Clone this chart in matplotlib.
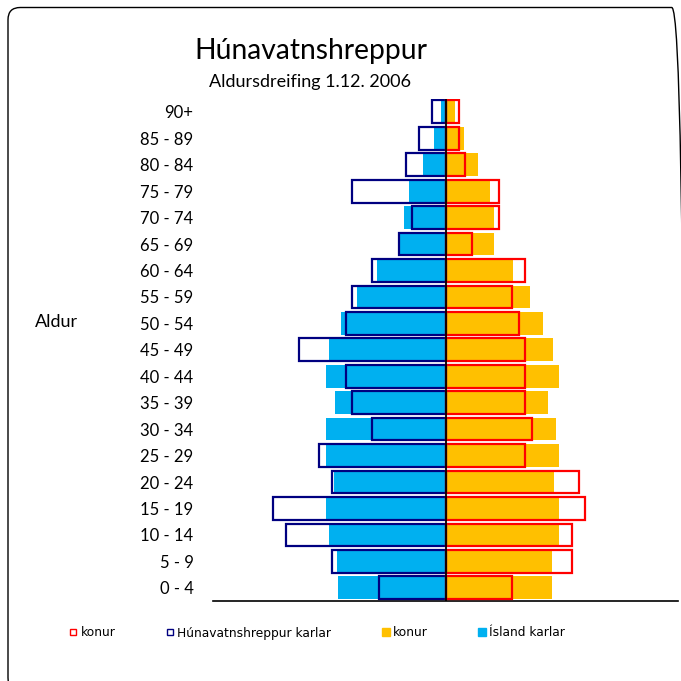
import numpy as np
import matplotlib.pyplot as plt
from matplotlib.patches import FancyBboxPatch
from matplotlib.lines import Line2D

# Aldurshópar, frá yngstu til elstu
aldur = ['0 - 4', '5 - 9', '10 - 14', '15 - 19', '20 - 24', '25 - 29', '30 - 34',
         '35 - 39', '40 - 44', '45 - 49', '50 - 54', '55 - 59', '60 - 64',
         '65 - 69', '70 - 74', '75 - 79', '80 - 84', '85 - 89', '90+']

# Ísland, hlutfall (%) af mannfjölda
island_karlar = [3.50, 3.51, 3.79, 3.89, 3.62, 3.89, 3.89, 3.59, 3.89, 3.79,
                 3.39, 2.86, 2.21, 1.48, 1.35, 1.19, 0.74, 0.38, 0.13]
island_konur = [3.45, 3.47, 3.68, 3.68, 3.52, 3.68, 3.58, 3.32, 3.69, 3.49,
                3.15, 2.74, 2.18, 1.59, 1.56, 1.43, 1.07, 0.61, 0.32]

# Húnavatnshreppur, fjöldi
hun_karlar = [10, 17, 24, 26, 17, 19, 11, 14, 15, 22, 15, 14, 11, 7, 5, 14, 6, 4, 2]
hun_konur = [10, 19, 19, 21, 20, 12, 13, 12, 12, 12, 11, 10, 12, 4, 8, 8, 3, 2, 2]

heild = sum(hun_karlar) + sum(hun_konur)
hun_karlar_pct = np.array(hun_karlar) / heild * 100
hun_konur_pct = np.array(hun_konur) / heild * 100

blar = '#00B0F0'
gulur = '#FFC000'
dokkblar = '#000080'
raudur = '#FF0000'

W = 681
fig = plt.figure(figsize=(6.81, 6.81), dpi=100)
ax = fig.add_axes([213 / W, (W - 601) / W, (678 - 213) / W, (601 - 98.6) / W])

y = np.arange(len(aldur))
h = 0.86
ax.barh(y, -np.array(island_karlar), height=h, color=blar, zorder=2)
ax.barh(y, island_konur, height=h, color=gulur, zorder=2)
ax.barh(y, -hun_karlar_pct, height=h, fill=False, edgecolor=dokkblar, linewidth=1.6, zorder=3)
ax.barh(y, hun_konur_pct, height=h, fill=False, edgecolor=raudur, linewidth=1.6, zorder=3)
ax.axvline(0, color='black', linewidth=1.3, zorder=4)

ax.set_xlim(-7.55, 7.55)
ax.set_ylim(-0.5, len(aldur) - 0.5)
ax.set_yticks(y)
ax.set_yticklabels(aldur, fontsize=12, family='Lato')
ax.tick_params(axis='y', length=0, pad=14)
ax.set_xticks([])
for s in ['top', 'right', 'left']:
    ax.spines[s].set_visible(False)
ax.spines['bottom'].set_linewidth(1.2)

fig.text(311 / W, (W - 59.3) / W, 'Húnavatnshreppur', ha='center', va='baseline',
         fontsize=20.3, family='Lato')
fig.text(310 / W, (W - 86.7) / W, 'Aldursdreifing 1.12. 2006', ha='center', va='baseline',
         fontsize=13, family='Lato')
fig.text(56.5 / W, (W - 322) / W, 'Aldur', ha='center', va='center', fontsize=13, family='Lato')

handles = [
    Line2D([], [], marker='s', linestyle='none', markersize=5, markerfacecolor='white',
           markeredgecolor=raudur, markeredgewidth=1),
    Line2D([], [], marker='s', linestyle='none', markersize=5, markerfacecolor='white',
           markeredgecolor=dokkblar, markeredgewidth=1),
    Line2D([], [], marker='s', linestyle='none', markersize=5.5, color=gulur),
    Line2D([], [], marker='s', linestyle='none', markersize=5.5, color=blar),
]
labels = ['konur', 'Húnavatnshreppur karlar', 'konur', 'Ísland karlar']
fig.legend(handles, labels, loc='center left', bbox_to_anchor=(70 / W, (W - 633) / W),
           ncol=4, frameon=False, prop={'family': 'DejaVu Sans', 'size': 8.8},
           handlelength=0.55, handletextpad=0.3, columnspacing=4.2, borderpad=0,
           borderaxespad=0)

ramma = FancyBboxPatch((8 / W, -9 / W), (684 - 8) / W, (W - 7.5 + 9) / W,
                       boxstyle='round,pad=0,rounding_size=0.018',
                       transform=fig.transFigure, fill=False, edgecolor='black',
                       linewidth=1.0, clip_on=False)
fig.patches.append(ramma)

fig.savefig('out.png', dpi=100)
